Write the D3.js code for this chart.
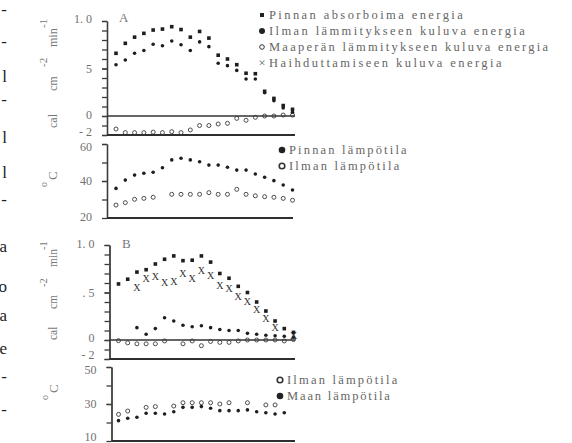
<!DOCTYPE html>
<html>
<head>
<meta charset="utf-8">
<script src="https://cdn.jsdelivr.net/npm/d3@7"></script>
<style>
  body { margin: 0; background: #fff; }
  svg { display: block; font-family: "Liberation Serif", "DejaVu Serif", serif; }
  .tick text { fill: #707070; font-size: 12px; font-family: "Liberation Serif", serif; }
  .tick line, .domain { stroke: #3a3a3a; stroke-width: 1.3; }
  .legend text { fill: #666; font-size: 12.5px; }
  .title { fill: #777; }
</style>
</head>
<body>
<svg id="chart" width="572" height="443"></svg>
<script>
// time steps along the x axis (no labels in the original)
const steps = [0, 1, 2, 3, 4, 5, 6, 7, 8, 9, 10, 11, 12, 13, 14, 15, 16, 17, 18, 19];

// Panel A, energy (cal cm-2 min-1)
const absorbA = [0.66, 0.765, 0.83, 0.87, 0.905, 0.915, 0.94, 0.91, 0.83, 0.89, 0.82, 0.64, 0.60, 0.54, 0.45, 0.445, 0.26, 0.185, 0.11, 0.07];
const airHeatA = [0.54, 0.59, 0.66, 0.69, 0.755, 0.74, 0.79, 0.75, 0.69, 0.78, 0.73, 0.555, 0.53, 0.48, 0.39, 0.39, 0.245, 0.16, 0.085, 0.04];
const soilHeatA = [-0.137, -0.175, -0.175, -0.175, -0.17, -0.175, -0.165, -0.175, -0.147, -0.1, -0.1, -0.084, -0.077, -0.025, -0.045, -0.014, 0, 0, 0.01, 0.01];

// Panel A, temperature (oC)
const surfTempA = [36.0, 40.5, 43.2, 44.2, 44.7, 47.2, 51.4, 52.3, 51.4, 50.4, 48.6, 48.6, 47.4, 45.9, 45.9, 43.8, 42.0, 40.2, 37.8, 35.1];
const airTempA = [27.0, 28.3, 30.1, 30.6, 31.2, null, 32.8, 32.8, 32.8, 32.8, 33.7, 32.8, 32.8, 35.5, 32.8, 32.0, 31.5, 31.2, 30.6, 29.6];

// Panel B, energy
const absorbB = [0.59, 0.64, 0.715, 0.74, 0.80, 0.85, 0.885, 0.835, 0.84, 0.885, 0.82, 0.70, 0.65, 0.565, 0.50, 0.40, 0.305, 0.20, 0.12, 0.08];
const airHeatB = [null, null, 0.13, 0.06, 0.12, 0.235, 0.20, 0.155, 0.14, 0.15, 0.13, 0.11, 0.10, 0.10, 0.07, 0.06, 0.05, 0.045, 0.04, 0.03];
const soilHeatB = [-0.007, -0.03, -0.04, -0.04, -0.04, -0.01, null, -0.04, -0.01, -0.06, -0.015, -0.025, -0.025, -0.01, 0.0, 0.0, 0.0, 0.0, -0.01, 0.005];
const evapB = [null, null, 0.55, 0.65, 0.67, 0.61, 0.62, 0.695, 0.65, 0.73, 0.68, 0.57, 0.54, 0.455, 0.41, 0.32, 0.225, 0.13, null, 0.05];

// Panel B, temperature
const airTempB = [24.4, 26.2, null, 28.2, 28.6, null, 28.9, 30.7, 30.7, 30.7, 30.7, 30.0, 30.7, null, 30.7, null, 29.5, 29.5, null];
const groundTempB = [21.0, 22.3, 22.8, 25.0, 25.0, 24.6, 25.8, 28.2, 28.2, 28.6, 27.7, 26.4, 26.4, 26.4, 26.8, 25.8, 25.3, 24.6, 25.3];

// axis ticks and labels
const energyTicks = [1.0, 0.5, 0, -0.2];
const energyLabelsA = ["1. 0", "5", "0", "- 2"];
const energyLabelsB = ["1. 0", ". 5", "0", "- 2"];
const energyMinor = [-0.2, -0.1, 0, 0.1, 0.2, 0.3, 0.4, 0.5, 0.6, 0.7, 0.8, 0.9, 1.0];
const tempTicksA = [60, 40, 20];
const tempMinorA = [60, 50, 40, 30];
const tempTicksB = [50, 30, 10];
const tempMinorB = [50, 40, 30, 20];

const energyLegend = ["Pinnan absorboima energia", "Ilman lämmitykseen kuluva energia",
                      "Maaperän lämmitykseen kuluva energia", "Haihduttamiseen kuluva energia"];
const tempLegendA = ["Pinnan lämpötila", "Ilman lämpötila"];
const tempLegendB = ["Ilman lämpötila", "Maan lämpötila"];

const svg = d3.select('#chart');

const xA = d3.scaleLinear().domain([0, 19]).range([116, 292.5]);
const xB = d3.scaleLinear().domain([0, 19]).range([118.5, 293.5]);
const yEA = d3.scaleLinear().domain([-0.2, 1.0]).range([135, 21]);
const yTA = d3.scaleLinear().domain([20, 60]).range([218, 144]);
const yEB = d3.scaleLinear().domain([-0.2, 1.0]).range([359, 245]);
const yTB = d3.scaleLinear().domain([10, 50]).range([441, 367]);

function drawAxis(x0, right, y, major, labels, minor, zero, shifts) {
    const g = svg.append('g').attr('transform', `translate(${x0},0)`);
    g.append('g')
        .call(d3.axisLeft(y).tickValues(minor).tickSize(5).tickSizeOuter(0).tickFormat(''));
    g.append('g')
        .call(d3.axisLeft(y).tickValues(major).tickSize(5).tickSizeOuter(0).tickPadding(10)
            .tickFormat((d, i) => labels[i]))
        .selectAll('.tick text')
        .attr('dy', (d, i) => (0.32 + shifts[i]) + 'em');
    const base = y.domain()[0];
    svg.append('line')
        .attr('x1', x0).attr('x2', right)
        .attr('y1', y(base)).attr('y2', y(base))
        .attr('stroke', '#2e2e2e').attr('stroke-width', 2);
    if (zero !== undefined) {
        svg.append('line')
            .attr('x1', x0).attr('x2', right)
            .attr('y1', y(zero)).attr('y2', y(zero))
            .attr('stroke', '#333').attr('stroke-width', 1.5);
    }
}

function plot(x, y, values, kind) {
    const pts = values.map((v, i) => ({ t: steps[i], v })).filter(d => d.v !== null);
    const g = svg.append('g');
    const sel = g.selectAll(null).data(pts).enter();
    if (kind === 'square') {
        sel.append('rect')
            .attr('x', d => x(d.t) - 1.8).attr('y', d => y(d.v) - 1.8)
            .attr('width', 3.6).attr('height', 3.6).attr('fill', '#1e1e1e');
    } else if (kind === 'dot') {
        sel.append('circle')
            .attr('cx', d => x(d.t)).attr('cy', d => y(d.v)).attr('r', 1.8)
            .attr('fill', '#1e1e1e');
    } else if (kind === 'ring') {
        sel.append('circle')
            .attr('cx', d => x(d.t)).attr('cy', d => y(d.v)).attr('r', 2)
            .attr('fill', 'none').attr('stroke', '#3a3a3a').attr('stroke-width', 0.9);
    } else if (kind === 'cross') {
        sel.append('text')
            .attr('x', d => x(d.t)).attr('y', d => y(d.v))
            .attr('dy', '0.35em').attr('text-anchor', 'middle')
            .attr('font-size', 10).attr('fill', '#333')
            .text('X');
    }
}

function legend(x, y0, step, labels, kinds, big, perChar) {
    const g = svg.append('g').attr('class', 'legend');
    labels.forEach((label, i) => {
        const cy = y0 + i * step;
        const k = kinds[i];
        if (k === 'square') {
            g.append('rect').attr('x', x - 2).attr('y', cy - 2).attr('width', 4).attr('height', 4).attr('fill', '#222');
        } else if (k === 'dot') {
            g.append('circle').attr('cx', x).attr('cy', cy).attr('r', big ? 3.3 : 3).attr('fill', '#222');
        } else if (k === 'ring') {
            g.append('circle').attr('cx', x).attr('cy', cy).attr('r', big ? 2.8 : 2.3)
                .attr('fill', 'none').attr('stroke', '#333').attr('stroke-width', big ? 1.6 : 1);
        } else {
            g.append('text').attr('x', x).attr('y', cy).attr('dy', '0.35em')
                .attr('text-anchor', 'middle').attr('font-size', 11).attr('fill', '#333')
                .text('×');
        }
        // typewriter-like spacing: about the same advance for every character
        g.append('text').attr('x', x + 7).attr('y', cy + 4)
            .attr('textLength', label.length * perChar)
            .attr('lengthAdjust', 'spacing')
            .text(label);
    });
}

function rotated(x, y, text, size) {
    svg.append('text').attr('class', 'title')
        .attr('transform', `translate(${x},${y}) rotate(-90)`)
        .attr('font-size', size).text(text);
}

// axes
drawAxis(107, 295, yEA, energyTicks, energyLabelsA, energyMinor, 0, [-0.2, 0, -0.1, -0.3]);
drawAxis(107, 293, yTA, tempTicksA, tempTicksA.map(String), tempMinorA, undefined, [0.25, 0, -0.15]);
drawAxis(109.5, 295, yEB, energyTicks, energyLabelsB, energyMinor, 0, [-0.1, 0, -0.2, -0.35]);
drawAxis(111.5, 295, yTB, tempTicksB, tempTicksB.map(String), tempMinorB, undefined, [0.25, 0, -0.4]);

// series
plot(xA, yEA, soilHeatA, 'ring');
plot(xA, yEA, airHeatA, 'dot');
plot(xA, yEA, absorbA, 'square');
plot(xA, yTA, airTempA, 'ring');
plot(xA, yTA, surfTempA, 'dot');

plot(xB, yEB, soilHeatB, 'ring');
plot(xB, yEB, airHeatB, 'dot');
plot(xB, yEB, evapB, 'cross');
plot(xB, yEB, absorbB, 'square');
plot(xB, yTB, airTempB, 'ring');
plot(xB, yTB, groundTempB, 'dot');

// panel letters
svg.append('text').attr('x', 119).attr('y', 22).attr('fill', '#777').attr('font-size', 13).text('A');
svg.append('text').attr('x', 122).attr('y', 248).attr('fill', '#777').attr('font-size', 13).text('B');

// legends
legend(262, 15, 16, energyLegend, ['square', 'dot', 'ring', 'cross'], false, 7.75);
legend(282, 150, 16, tempLegendA, ['dot', 'ring'], true, 7.35);
legend(280, 380, 16, tempLegendB, ['ring', 'dot'], true, 7.35);

// y-axis titles: cal cm-2 min-1
rotated(57, 128, 'cal', 12);
rotated(57, 91, 'cm', 12);
rotated(47, 67, '-2', 11);
rotated(57, 47, 'min', 12);
rotated(47, 28, '-1', 11);

rotated(57, 340, 'cal', 11.5);
rotated(57, 309, 'cm', 11.5);
rotated(47, 287, '-2', 10.5);
rotated(57, 267, 'min', 11.5);
rotated(47, 250, '-1', 10.5);

// oC titles
rotated(47, 187, 'o', 10);
rotated(57, 180, 'C', 13);
rotated(48, 400, 'o', 10);
rotated(58, 393, 'C', 13);

// cut-off letters of the neighbouring page column
const marginGlyphs = [['-', 15], ['-', 47], ['l', 82], ['-', 105], ['l', 143], ['l', 178], ['-', 205],
                      ['a', 252], ['o', 292], ['a', 321], ['e', 354], ['-', 382], ['-', 415]];
marginGlyphs.forEach(([c, y]) => {
    svg.append('text').attr('x', 7).attr('y', y).attr('text-anchor', 'end')
        .attr('font-size', 17).attr('fill', '#222').text(c);
});
</script>
</body>
</html>
